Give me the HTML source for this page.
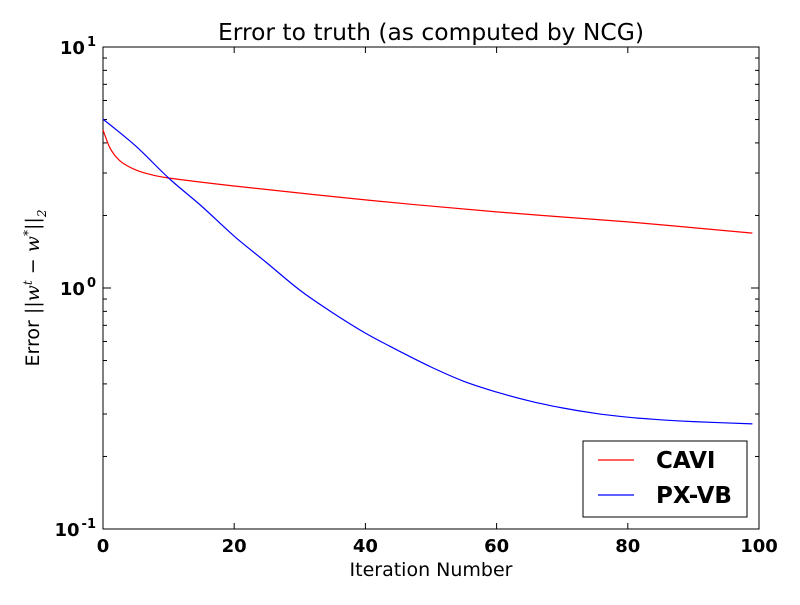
<!DOCTYPE html>
<html><head><meta charset="utf-8"><style>
body{margin:0;background:#fff}
svg text{font-family:"DejaVu Sans","Liberation Sans",sans-serif}
</style></head><body>
<svg id="chart" width="800" height="600" xmlns="http://www.w3.org/2000/svg">
<rect width="800" height="600" fill="#fff"/>
<text x="431" y="40" font-size="23" text-anchor="middle" textLength="426" lengthAdjust="spacingAndGlyphs">Error to truth (as computed by NCG)</text>
<text x="431" y="576" font-size="19" text-anchor="middle">Iteration Number</text>
<text transform="translate(39,288) rotate(-90)" font-size="19" text-anchor="middle">Error <tspan font-style="italic" font-family="DejaVu Serif">||w<tspan baseline-shift="super" font-size="12">t</tspan> − w<tspan baseline-shift="super" font-size="12">*</tspan>||<tspan baseline-shift="sub" font-size="12">2</tspan></tspan></text>
<g id="axes"></g>
<g id="series"></g>
<g>
<rect x="583" y="441" width="164" height="76" fill="#fff" stroke="#000" stroke-width="1"/>
<line x1="598" y1="460" x2="634" y2="460" stroke="red" stroke-width="1.2"/>
<text x="656" y="468" font-size="23" font-weight="bold">CAVI</text>
<line x1="598" y1="495" x2="634" y2="495" stroke="blue" stroke-width="1.2"/>
<text x="656" y="503" font-size="23" font-weight="bold">PX-VB</text>
</g>
</svg>
<script>
const xTicks=[0,20,40,60,80,100];
const cavi_x=[0,1,2,3,5,7,10,20,40,60,80,99];
const cavi_y=[4.53,3.84,3.5,3.3,3.09,2.97,2.86,2.65,2.32,2.07,1.88,1.69];
const pxvb_x=[0,5,10,15,20,25,30,35,40,45,50,55,60,65,70,75,80,85,90,99];
const pxvb_y=[5.02,3.88,2.86,2.19,1.64,1.27,0.98,0.79,0.65,0.55,0.47,0.41,0.37,0.34,0.318,0.302,0.291,0.284,0.279,0.273];
const L=103,R=759,T=47,B=529;
const xs=v=>L+(v/100)*(R-L);
const ys=v=>B-(Math.log10(v)+1)/2*(B-T);
const NS="http://www.w3.org/2000/svg";
function mk(tag,attrs,parent){const e=document.createElementNS(NS,tag);for(const k in attrs)e.setAttribute(k,attrs[k]);parent.appendChild(e);return e;}
const ax=document.getElementById('axes');
const frame=mk('rect',{x:L,y:T,width:R-L,height:B-T,fill:'none',stroke:'#000','stroke-width':1},ax);


xTicks.forEach(t=>{const x=xs(t);
mk('line',{x1:x,y1:B,x2:x,y2:B-6,stroke:'#000'},ax);
mk('line',{x1:x,y1:T,x2:x,y2:T+6,stroke:'#000'},ax);
const tx=mk('text',{x:x,y:B+23,'font-size':18,'font-weight':'bold','text-anchor':'middle'},ax);
tx.textContent=t;

});
[-1,0,1].forEach(p=>{const y=ys(Math.pow(10,p));
mk('line',{x1:L,y1:y,x2:L+8,y2:y,stroke:'#000'},ax);
mk('line',{x1:R,y1:y,x2:R-8,y2:y,stroke:'#000'},ax);
const tx=mk('text',{x:L-7,y:y+7,'font-size':18,'font-weight':'bold','text-anchor':'end'},ax);
tx.innerHTML='10<tspan dx="2" dy="-8" font-size="13">'+p+'</tspan>';


if(p<1)for(let m=2;m<10;m++){const yy=ys(m*Math.pow(10,p));
mk('line',{x1:L,y1:yy,x2:L+4,y2:yy,stroke:'#000'},ax);
mk('line',{x1:R,y1:yy,x2:R-4,y2:yy,stroke:'#000'},ax);}});
const sg=document.getElementById('series');
function line(xa,ya,col,name){
const P=xa.map((v,i)=>[xs(v),ys(ya[i])]);
let d='M'+P[0][0].toFixed(1)+','+P[0][1].toFixed(1);
for(let i=0;i<P.length-1;i++){const p0=P[Math.max(i-1,0)],p1=P[i],p2=P[i+1],p3=P[Math.min(i+2,P.length-1)];
const c1=[p1[0]+(p2[0]-p0[0])/6,p1[1]+(p2[1]-p0[1])/6],c2=[p2[0]-(p3[0]-p1[0])/6,p2[1]-(p3[1]-p1[1])/6];
d+='C'+c1.map(v=>v.toFixed(1)).join(',')+' '+c2.map(v=>v.toFixed(1)).join(',')+' '+p2.map(v=>v.toFixed(1)).join(',');}
const p=mk('path',{d:d,fill:'none',stroke:col,'stroke-width':1.2,'stroke-linejoin':'round'},sg);

}
line(cavi_x,cavi_y,'red','cavi-line');
line(pxvb_x,pxvb_y,'blue','pxvb-line');
</script>
</body></html>
